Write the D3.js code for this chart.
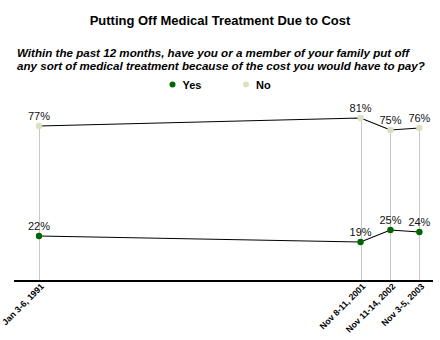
<!DOCTYPE html>
<html>
<head>
<meta charset="utf-8">
<script src="https://cdn.jsdelivr.net/npm/d3@7"></script>
<style>
  body { margin: 0; background: #fff; }
  text { font-family: "Liberation Sans", Arial, sans-serif; }
</style>
</head>
<body>
<script>
// survey dates (mid-point of fieldwork) and their labels
var surveyDates = ["1991-01-04", "2001-11-09", "2002-11-12", "2003-11-04"];
var tickLabels = ["Jan 3-6, 1991", "Nov 8-11, 2001", "Nov 11-14, 2002", "Nov 3-5, 2003"];

// percentages
var yesValues = [22, 19, 25, 24];
var noValues = [77, 81, 75, 76];

var seriesNames = ["Yes", "No"];
var seriesColors = ["#006600", "#dedec0"];

var w = 440,
    h = 340,
    axisY = 281;

var parse = d3.timeParse("%Y-%m-%d");
var dates = surveyDates.map(parse);

var svg = d3.select("body")
            .append("svg")
            .attr("width", w)
            .attr("height", h);

// scales
var xScale = d3.scaleTime()
               .domain([new Date(1991, 0, 1), new Date(2004, 0, 1)])
               .range([38.75, 424.1]);

var yScale = d3.scaleLinear()
               .domain([0, 100])
               .range([280, 80]);

// title
svg.append("text")
   .attr("x", w / 2)
   .attr("y", 25)
   .attr("text-anchor", "middle")
   .style("font-size", "13px")
   .style("font-weight", "bold")
   .text("Putting Off Medical Treatment Due to Cost");

// question
var question = ["Within the past 12 months, have you or a member of your family put off",
                "any sort of medical treatment because of the cost you would have to pay?"];
svg.selectAll(".question")
   .data(question)
   .enter()
   .append("text")
   .attr("class", "question")
   .attr("x", 17)
   .attr("y", function(d, i) { return 56.5 + i * 13.3; })
   .style("font-size", "11.6px")
   .style("font-weight", "bold")
   .style("font-style", "italic")
   .text(function(d) { return d; });

// legend
var legend = svg.selectAll(".legend")
                .data(seriesNames)
                .enter()
                .append("g")
                .attr("class", "legend")
                .attr("transform", function(d, i) {
                    return "translate(" + (172.5 + i * 73.5) + ",84.5)";
                });
legend.append("circle")
      .attr("r", 3)
      .attr("fill", function(d, i) { return seriesColors[i]; });
legend.append("text")
      .attr("x", 10)
      .attr("y", 4)
      .style("font-size", "11px")
      .style("font-weight", "bold")
      .text(function(d) { return d; });

// vertical gray guide lines
svg.selectAll(".guide")
   .data(dates)
   .enter()
   .append("line")
   .attr("class", "guide")
   .attr("x1", function(d) { return Math.round(xScale(d)) + 0.5; })
   .attr("x2", function(d) { return Math.round(xScale(d)) + 0.5; })
   .attr("y1", function(d, i) { return yScale(noValues[i]); })
   .attr("y2", axisY)
   .attr("stroke", "#c8c8c8")
   .attr("stroke-width", 1);

// x axis
var xAxis = d3.axisBottom(xScale)
              .tickValues(dates)
              .tickSize(0)
              .tickFormat(function(d, i) { return tickLabels[i]; });

var axisG = svg.append("g")
               .attr("transform", "translate(0," + axisY + ")")
               .call(xAxis);
axisG.select(".domain").remove();
axisG.append("line")
     .attr("x1", 14)
     .attr("x2", 433)
     .attr("stroke", "#000")
     .attr("stroke-width", 2.2);
axisG.selectAll(".tick text")
     .attr("text-anchor", "end")
     .attr("x", 0)
     .attr("y", 0)
     .attr("dy", 0)
     .attr("transform", "translate(5,6) rotate(-45)")
     .style("font-family", "Liberation Sans, Arial, sans-serif")
     .style("font-size", "8.8px")
     .style("font-weight", "bold")
     .attr("fill", "#000");

// series lines, points and labels
var series = [yesValues, noValues];

var line = d3.line()
             .x(function(d, i) { return xScale(dates[i]); })
             .y(function(d) { return yScale(d); });

series.forEach(function(values, s) {
    svg.append("path")
       .datum(values)
       .attr("d", line)
       .attr("fill", "none")
       .attr("stroke", "#000")
       .attr("stroke-width", 1.1);

    svg.selectAll(".dot" + s)
       .data(values)
       .enter()
       .append("circle")
       .attr("cx", function(d, i) { return xScale(dates[i]); })
       .attr("cy", function(d) { return yScale(d); })
       .attr("r", 3.2)
       .attr("fill", seriesColors[s]);

    svg.selectAll(".label" + s)
       .data(values)
       .enter()
       .append("text")
       .attr("x", function(d, i) { return xScale(dates[i]); })
       .attr("y", function(d) { return yScale(d) - 6.5; })
       .attr("text-anchor", "middle")
       .style("font-size", "11px")
       .attr("fill", "#111")
       .text(function(d) { return d + "%"; });
});
</script>
</body>
</html>
